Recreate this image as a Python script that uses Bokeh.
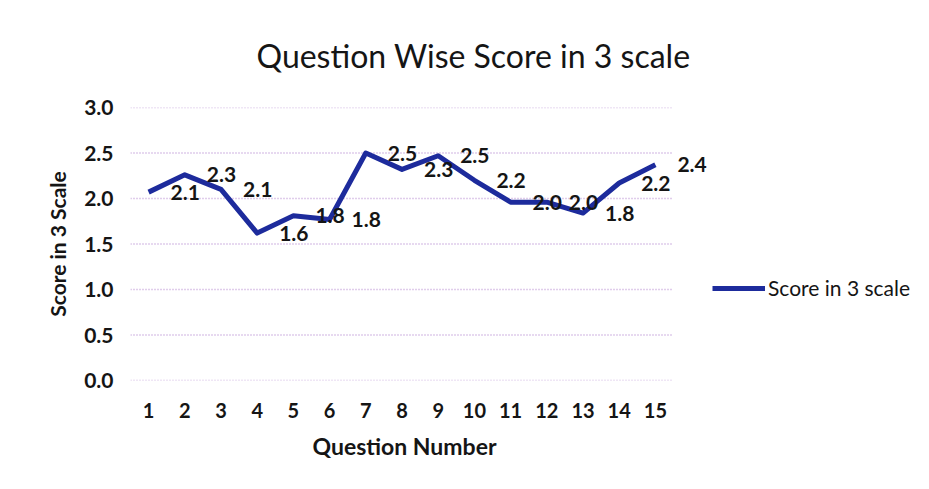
from bokeh.plotting import figure
from bokeh.models import (FixedTicker, Legend, LegendItem, ColumnDataSource, Range1d,
                          NumeralTickFormatter, LabelSet, Title)
from bokeh.core.properties import value
from bokeh.embed import file_html
from bokeh.resources import INLINE

questions = list(range(1, 16))
scores = [2.07, 2.26, 2.10, 1.62, 1.81, 1.77, 2.50, 2.32, 2.47, 2.20, 1.96, 1.96, 1.84, 2.17, 2.37]
score_labels = [f"{s:.1f}" for s in scores]
y_ticks = [0.0, 0.5, 1.0, 1.5, 2.0, 2.5, 3.0]

FONT = "Lato"
TXT = "#151515"

# category axis spans 0.5..15.5; the frame is widened on the right so the
# outside data label and the legend are not clipped
X_START, X_LAST = 0.5, 15.5
PLOT_W_CAT = 543          # pixel width of the category area
FRAME_W = 791
X_END = X_START + (X_LAST - X_START) * FRAME_W / PLOT_W_CAT

src = ColumnDataSource(dict(q=questions, s=scores, lab=score_labels))
grid_src = ColumnDataSource(dict(x0=[X_START] * len(y_ticks), x1=[X_LAST] * len(y_ticks),
                                 y=y_ticks))

p = figure(width=929, height=489, output_backend="svg", toolbar_location=None,
           x_range=Range1d(X_START, X_END), y_range=Range1d(0, 3),
           min_border_left=130, min_border_right=929 - 130 - FRAME_W,
           min_border_top=106, min_border_bottom=109,
           title="Question Wise Score in 3 scale")
p.outline_line_color = None
p.background_fill_color = "white"
p.border_fill_color = "white"

p.title.text_font = FONT
p.title.text_font_size = "32px"
p.title.text_font_style = "normal"
p.title.text_color = TXT
p.title.align = "left"
p.title.offset = 126
p.title.standoff = 66

p.xgrid.grid_line_color = None
p.ygrid.grid_line_color = None
p.segment(x0="x0", x1="x1", y0="y", y1="y", source=grid_src,
          line_color="#c09ad6", line_dash="1 2", line_width=1.4)

r = p.line(x="q", y="s", source=src, line_color="#1d2b9c", line_width=5, line_join="round")

labels = LabelSet(x="q", y="s", text="lab", source=src, x_offset=22, y_offset=0,
                  text_align="left", text_baseline="middle", text_font=value(FONT),
                  text_font_style="bold", text_font_size="21px", text_color=TXT)
p.add_layout(labels)

p.yaxis.ticker = FixedTicker(ticks=y_ticks)
p.yaxis.formatter = NumeralTickFormatter(format="0.0")
p.xaxis.ticker = FixedTicker(ticks=questions)

for ax in (p.xaxis, p.yaxis):
    ax.axis_line_color = None
    ax.major_tick_line_color = None
    ax.minor_tick_line_color = None
    ax.major_tick_out = 0
    ax.major_label_text_font = FONT
    ax.major_label_text_font_style = "bold"
    ax.major_label_text_color = TXT
    ax.axis_label_text_font = FONT
    ax.axis_label_text_font_style = "bold"
    ax.axis_label_text_color = TXT

p.yaxis.major_label_text_font_size = "21px"
p.yaxis.major_label_standoff = 17
p.yaxis.axis_label = "Score in 3 Scale"
p.yaxis.axis_label_text_font_size = "21px"
p.yaxis.axis_label_standoff = 11

p.xaxis.major_label_text_font_size = "20px"
p.xaxis.major_label_standoff = 22

x_title = Title(text="Question Number", align="left", offset=182, standoff=19,
                text_font=FONT, text_font_size="23px", text_font_style="bold",
                text_color=TXT)
p.add_layout(x_title, "below")

legend = Legend(items=[LegendItem(label="Score in 3 scale", renderers=[r])],
                location=(582, 80), margin=0, padding=0, border_line_color=None,
                background_fill_alpha=0, glyph_width=53, label_standoff=3,
                label_text_font=FONT, label_text_font_size="21px", label_text_color=TXT)
p.add_layout(legend, "center")

open("out.html", "w").write(file_html(p, INLINE))
